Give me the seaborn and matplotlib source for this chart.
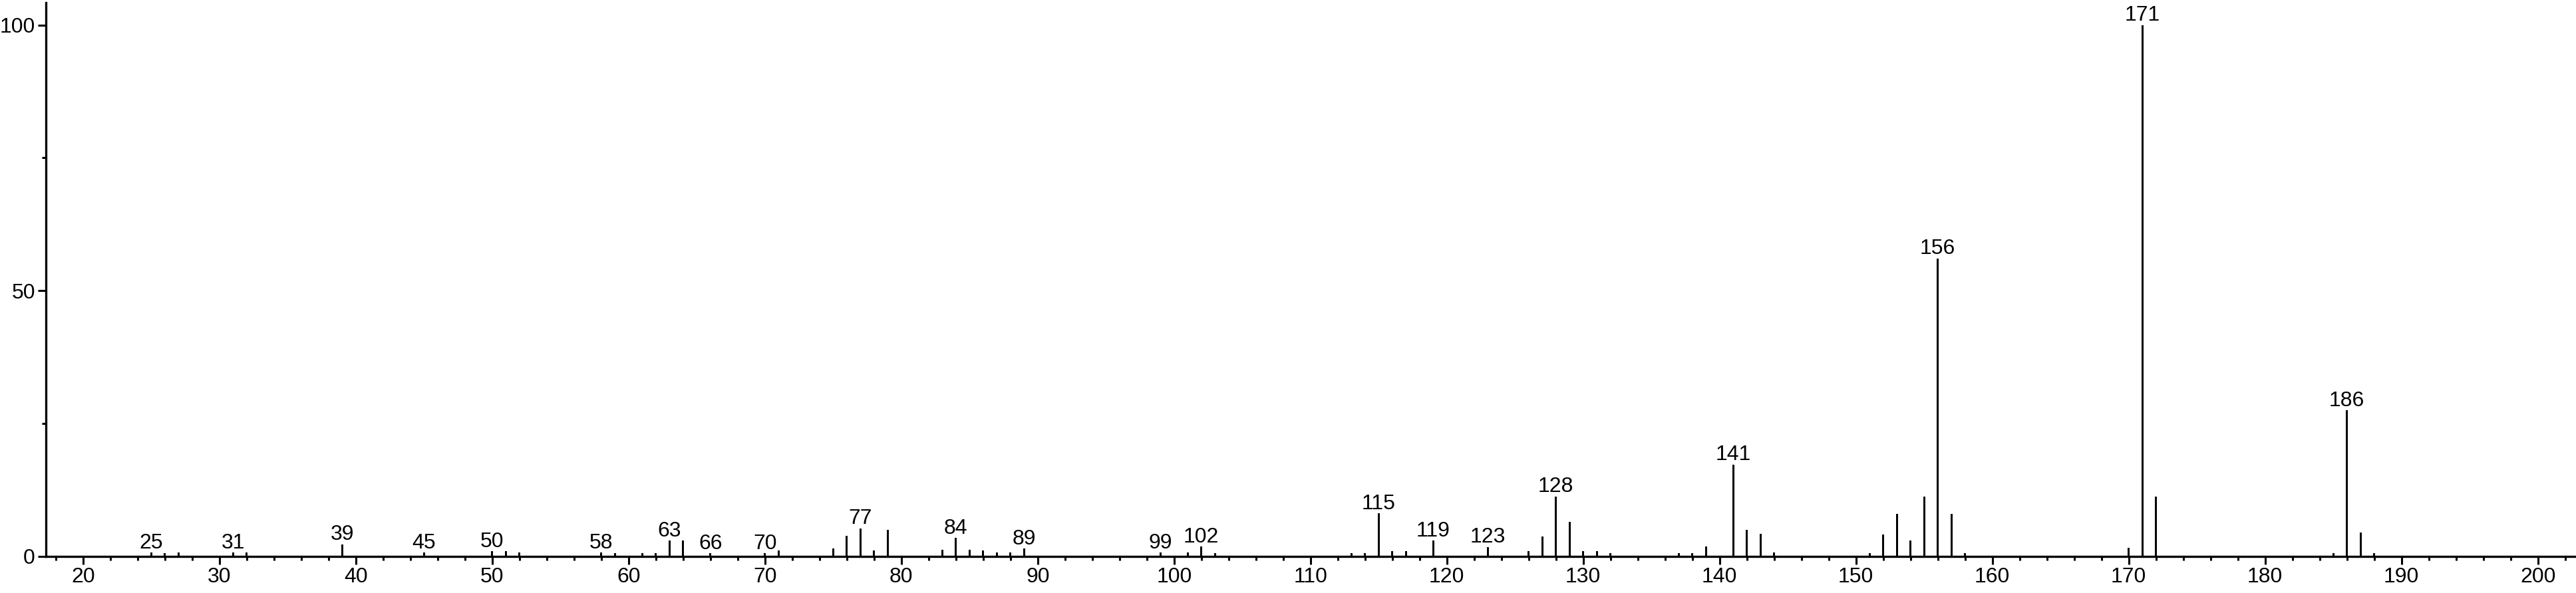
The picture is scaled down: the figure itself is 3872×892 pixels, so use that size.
import matplotlib
matplotlib.use('Agg')
import matplotlib.pyplot as plt
import seaborn as sns
from matplotlib.ticker import MultipleLocator, FixedLocator

# m/z values and relative intensities (%)
mz = [25, 26, 27, 31, 32, 39, 45, 50, 51, 52, 58, 59, 61, 62, 63, 64, 66,
      70, 71, 75, 76, 77, 78, 79, 83, 84, 85, 86, 87, 88, 89, 99, 101, 102,
      103, 113, 114, 115, 116, 117, 119, 123, 126, 127, 128, 129, 130, 131,
      132, 137, 138, 139, 141, 142, 143, 144, 151, 152, 153, 154, 155, 156,
      157, 158, 170, 171, 172, 185, 186, 187, 188]
intensity = [0.7, 0.6, 0.7, 0.7, 0.7, 2.3, 0.7, 1.0, 1.0, 0.7, 0.7, 0.6, 0.6,
             0.6, 3.0, 3.0, 0.6, 0.6, 1.1, 1.5, 3.9, 5.3, 1.1, 5.0, 1.2, 3.5,
             1.2, 1.1, 0.7, 0.7, 1.5, 0.7, 0.7, 1.9, 0.6, 0.6, 0.6, 8.1, 1.0,
             1.0, 3.0, 1.8, 1.0, 3.8, 11.3, 6.5, 1.0, 1.0, 0.6, 0.6, 0.6, 1.9,
             17.3, 5.0, 4.2, 0.7, 0.6, 4.1, 8.0, 3.0, 11.2, 56.1, 8.0, 0.6,
             1.6, 100.0, 11.3, 0.6, 27.5, 4.5, 0.6]
labeled_peaks = [25, 31, 39, 45, 50, 58, 63, 66, 70, 77, 84, 89, 99, 102,
                 115, 119, 123, 128, 141, 156, 171, 186]

sns.set_style('ticks')
plt.rcParams['font.family'] = ['Liberation Sans', 'DejaVu Sans']
plt.rcParams['text.color'] = 'black'
plt.rcParams['xtick.color'] = 'black'
plt.rcParams['ytick.color'] = 'black'
plt.rcParams['axes.edgecolor'] = 'black'

W, H = 3872, 892
fig = plt.figure(figsize=(W / 100, H / 100), dpi=100)
ax = fig.add_axes([69 / W, 55 / H, 1 - 69 / W, 833 / H])

sns.barplot(x=mz, y=intensity, native_scale=True, width=0.15,
            color='black', saturation=1, linewidth=0, ax=ax)

ax.set_xlim(17.27, 202.8)
ax.set_ylim(0, 104.2)
ax.set(xlabel='', ylabel='')

ax.xaxis.set_major_locator(MultipleLocator(10))
ax.xaxis.set_minor_locator(MultipleLocator(2))
ax.yaxis.set_major_locator(FixedLocator([0, 50, 100]))
ax.yaxis.set_minor_locator(FixedLocator([25, 75]))
ax.tick_params(which='major', length=8.6, width=2.2, labelsize=23, pad=3)
ax.tick_params(which='minor', length=4.3, width=2.2)

sns.despine(ax=ax)
for side in ['left', 'bottom']:
    ax.spines[side].set_linewidth(2.4)

lookup = dict(zip(mz, intensity))
for m in labeled_peaks:
    ax.annotate(str(m), (m, lookup[m]), xytext=(0, 4.5),
                textcoords='offset points', ha='center', va='baseline',
                fontsize=23)

fig.savefig('out.png', dpi=100)
